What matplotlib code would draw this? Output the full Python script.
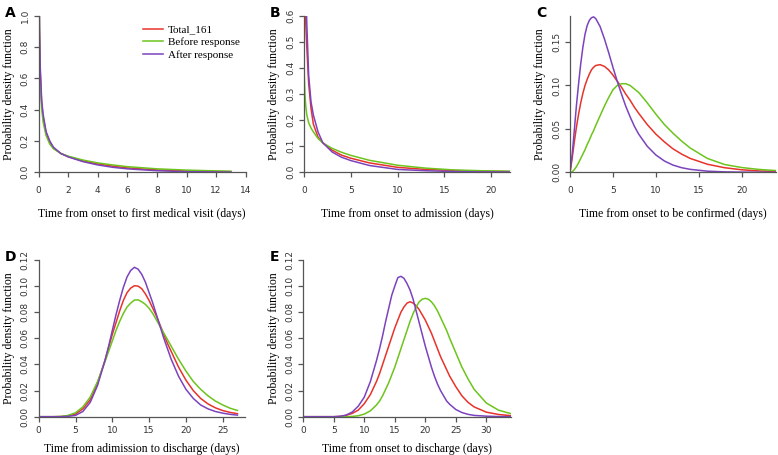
import numpy as np
import matplotlib
matplotlib.use("Agg")
import matplotlib.pyplot as plt

# ---- data (x in days, pdf values) ----
series_names = ["Total_161", "Before response", "After response"]
colors = ["#e8332b", "#6cc41c", "#7b43bd"]

# A: onset to first medical visit
a_x = [0.02, 0.05, 0.1, 0.2, 0.3, 0.5, 0.75, 1, 1.5, 2, 3, 4, 5, 6, 8, 10, 12, 13]
a_total = [1.4, 0.9, 0.65, 0.44, 0.35, 0.25, 0.19, 0.155, 0.12, 0.1, 0.072, 0.053, 0.039, 0.028, 0.015, 0.008, 0.005, 0.004]
a_before = [1.3, 0.85, 0.6, 0.41, 0.32, 0.235, 0.18, 0.15, 0.12, 0.103, 0.078, 0.06, 0.047, 0.036, 0.022, 0.014, 0.009, 0.007]
a_after = [1.5, 0.95, 0.68, 0.46, 0.37, 0.26, 0.2, 0.16, 0.12, 0.098, 0.068, 0.047, 0.032, 0.022, 0.01, 0.004, 0.002, 0.001]

# B: onset to admission
b_x = [0.01, 0.1, 0.2, 0.3, 0.5, 0.75, 1, 1.5, 2, 3, 4, 5, 7, 10, 13, 16, 19, 22]
b_total = [0.9, 0.65, 0.56, 0.48, 0.34, 0.245, 0.185, 0.135, 0.113, 0.085, 0.066, 0.054, 0.036, 0.019, 0.011, 0.007, 0.004, 0.003]
b_before = [0.39, 0.3, 0.25, 0.22, 0.19, 0.17, 0.155, 0.13, 0.113, 0.092, 0.077, 0.065, 0.046, 0.027, 0.016, 0.009, 0.006, 0.004]
b_after = [1.2, 0.9, 0.7, 0.57, 0.37, 0.27, 0.22, 0.155, 0.114, 0.078, 0.058, 0.045, 0.026, 0.011, 0.006, 0.003, 0.0015, 0.001]

# C: onset to be confirmed
c_x = [0, 0.25, 0.5, 0.75, 1, 1.25, 1.5, 1.75, 2, 2.25, 2.5, 2.75, 3, 3.5, 4, 4.5, 5, 5.5,
       6, 6.5, 7, 7.5, 8, 9, 10, 11, 12, 13, 14, 16, 18, 20, 22, 24]
c_total = [0, 0.016, 0.035, 0.052, 0.067, 0.08, 0.091, 0.1, 0.107, 0.113, 0.118, 0.121, 0.123, 0.124, 0.122, 0.118, 0.112, 0.105,
           0.098, 0.09, 0.083, 0.075, 0.068, 0.055, 0.044, 0.035, 0.027, 0.021, 0.016, 0.0093, 0.0053, 0.0029, 0.0016, 0.0009]
c_before = [0, 0.0005, 0.003, 0.0065, 0.011, 0.016, 0.021, 0.026, 0.032, 0.037, 0.043, 0.048, 0.054, 0.065, 0.076, 0.086, 0.095, 0.1,
            0.102, 0.102, 0.1, 0.096, 0.092, 0.08, 0.067, 0.055, 0.045, 0.036, 0.028, 0.016, 0.009, 0.0055, 0.0033, 0.002]
c_after = [0, 0.02, 0.048, 0.077, 0.102, 0.125, 0.144, 0.159, 0.169, 0.175, 0.178, 0.179, 0.177, 0.168, 0.154, 0.138, 0.121, 0.105,
           0.09, 0.076, 0.064, 0.053, 0.044, 0.03, 0.02, 0.013, 0.0083, 0.0053, 0.0034, 0.0013, 0.0005, 0.0002, 0.0001, 0]

# D: admission to discharge
d_x = [0, 2, 3, 4, 5, 6, 7, 8, 9, 9.5, 10, 10.5, 11, 11.5, 12, 12.5, 13, 13.5, 14, 14.5, 15, 15.5,
       16, 16.5, 17, 17.5, 18, 19, 20, 21, 22, 23, 24, 25, 26, 27]
d_total = [0, 0, 0.0001, 0.0006, 0.002, 0.006, 0.013, 0.026, 0.043, 0.053, 0.063, 0.072, 0.081, 0.089, 0.095, 0.0985, 0.1003, 0.1, 0.098, 0.094, 0.089, 0.083,
           0.077, 0.07, 0.063, 0.056, 0.05, 0.038, 0.028, 0.02, 0.014, 0.0098, 0.0068, 0.0047, 0.0033, 0.0023]
d_before = [0, 0, 0.0002, 0.001, 0.003, 0.0075, 0.015, 0.027, 0.042, 0.05, 0.058, 0.066, 0.073, 0.079, 0.084, 0.087, 0.0893, 0.0895, 0.088, 0.086, 0.083, 0.079,
            0.074, 0.069, 0.064, 0.059, 0.054, 0.044, 0.035, 0.027, 0.021, 0.016, 0.012, 0.009, 0.0065, 0.0048]
d_after = [0, 0, 0, 0.0003, 0.001, 0.004, 0.011, 0.024, 0.043, 0.054, 0.066, 0.078, 0.089, 0.099, 0.107, 0.112, 0.1144, 0.113, 0.109, 0.103, 0.095, 0.087,
           0.078, 0.069, 0.06, 0.052, 0.044, 0.031, 0.021, 0.014, 0.009, 0.006, 0.004, 0.0027, 0.0018, 0.0012]

# E: onset to discharge
e_x = [0, 5, 6, 7, 8, 9, 10, 11, 12, 12.5, 13, 13.5, 14, 14.5, 15, 15.5, 16, 16.5, 17, 17.5, 18, 18.5,
       19, 19.5, 20, 20.5, 21, 21.5, 22, 22.5, 23, 23.5, 24, 25, 26, 27, 28, 30, 32, 34]
e_total = [0, 0, 0.0002, 0.001, 0.0025, 0.005, 0.01, 0.017, 0.027, 0.033, 0.04, 0.047, 0.054, 0.061, 0.068, 0.074, 0.08, 0.084, 0.087, 0.088, 0.087, 0.085,
           0.082, 0.078, 0.074, 0.069, 0.064, 0.058, 0.052, 0.046, 0.041, 0.036, 0.031, 0.023, 0.016, 0.011, 0.0075, 0.0035, 0.0017, 0.0008]
e_before = [0, 0, 0, 0, 0.0002, 0.0007, 0.002, 0.0045, 0.009, 0.012, 0.016, 0.021, 0.026, 0.032, 0.038, 0.045, 0.052, 0.059, 0.066, 0.073, 0.079, 0.084,
            0.088, 0.09, 0.0906, 0.09, 0.088, 0.085, 0.081, 0.076, 0.071, 0.066, 0.06, 0.049, 0.038, 0.029, 0.021, 0.0105, 0.005, 0.0024]
e_after = [0, 0, 0.0003, 0.0012, 0.0035, 0.008, 0.015, 0.027, 0.043, 0.052, 0.062, 0.073, 0.083, 0.093, 0.1, 0.1065, 0.1075, 0.106, 0.102, 0.097, 0.09, 0.081,
           0.072, 0.063, 0.054, 0.046, 0.038, 0.031, 0.025, 0.02, 0.016, 0.012, 0.0095, 0.0055, 0.0032, 0.0018, 0.001, 0.0004, 0.0001, 0]

panels = [
    ("A", a_x, [a_total, a_before, a_after], "Time from onset to first medical visit (days)",
     (0, 14), np.arange(0, 15, 2), (0, 1.0), np.arange(0, 1.01, 0.2), "%.1f"),
    ("B", b_x, [b_total, b_before, b_after], "Time from onset to admission (days)",
     (0, 22), [0, 5, 10, 15, 20], (0, 0.6), np.arange(0, 0.61, 0.1), "%.1f"),
    ("C", c_x, [c_total, c_before, c_after], "Time from onset to be confirmed (days)",
     (0, 24), [0, 5, 10, 15, 20], (0, 0.18), [0, 0.05, 0.10, 0.15], "%.2f"),
    ("D", d_x, [d_total, d_before, d_after], "Time from adimission to discharge (days)",
     (0, 28), [0, 5, 10, 15, 20, 25], (0, 0.12), np.arange(0, 0.121, 0.02), "%.2f"),
    ("E", e_x, [e_total, e_before, e_after], "Time from onset to discharge (days)",
     (0, 34), [0, 5, 10, 15, 20, 25, 30], (0, 0.12), np.arange(0, 0.121, 0.02), "%.2f"),
]

W, H = 778, 455
boxes = {  # left, top, right, bottom in pixels
    "A": (38.7, 15.7, 245.7, 172.3),
    "B": (304, 16, 510, 172.3),
    "C": (570, 16, 776, 172.3),
    "D": (38.7, 260, 244.8, 416.7),
    "E": (303.3, 260, 510.7, 416.7),
}

serif = ["Liberation Serif", "DejaVu Serif"]
fig = plt.figure(figsize=(W / 100, H / 100), dpi=100)

for letter, xs, ys, xlabel, xlim, xticks, ylim, yticks, fmt in panels:
    l, t, r, b = boxes[letter]
    top_row = letter in "ABC"
    ax = fig.add_axes([l / W, 1 - b / H, (r - l) / W, (b - t) / H])
    for y, c, name in zip(ys, colors, series_names):
        ax.plot(xs, y, color=c, lw=1.1, label=name)
    ax.set_xlim(*xlim)
    ax.set_ylim(*ylim)
    ax.set_xticks(xticks)
    ax.set_yticks(yticks)
    ax.set_yticklabels([fmt % v for v in yticks], rotation=90, va="center")
    for s in ["top", "right"]:
        ax.spines[s].set_visible(False)
    for s in ["left", "bottom"]:
        ax.spines[s].set_color("#555555")
        ax.spines[s].set_linewidth(0.9)
    ax.tick_params(direction="out", length=3.5, width=0.9, color="#555555",
                   labelsize=6.5, labelcolor="#333333", pad=3)
    ax.tick_params(axis="x", pad=6.5 if top_row else 3)
    ax.set_xlabel(xlabel, fontsize=8.5, family=serif, labelpad=9 if top_row else 6)
    ax.set_ylabel("Probability density function", fontsize=8.5, family=serif, labelpad=4)
    fig.text((l - 34) / W, 1 - (t - 10) / H, letter, fontsize=10, fontweight="bold",
             va="top", ha="left")
    if letter == "A":
        ax.legend(loc="upper left", bbox_to_anchor=(0.48, 0.97), frameon=False,
                  prop={"family": serif, "size": 8}, handlelength=1.8,
                  handletextpad=0.5, labelspacing=0.25, borderaxespad=0)

fig.savefig("out.png", dpi=100)
